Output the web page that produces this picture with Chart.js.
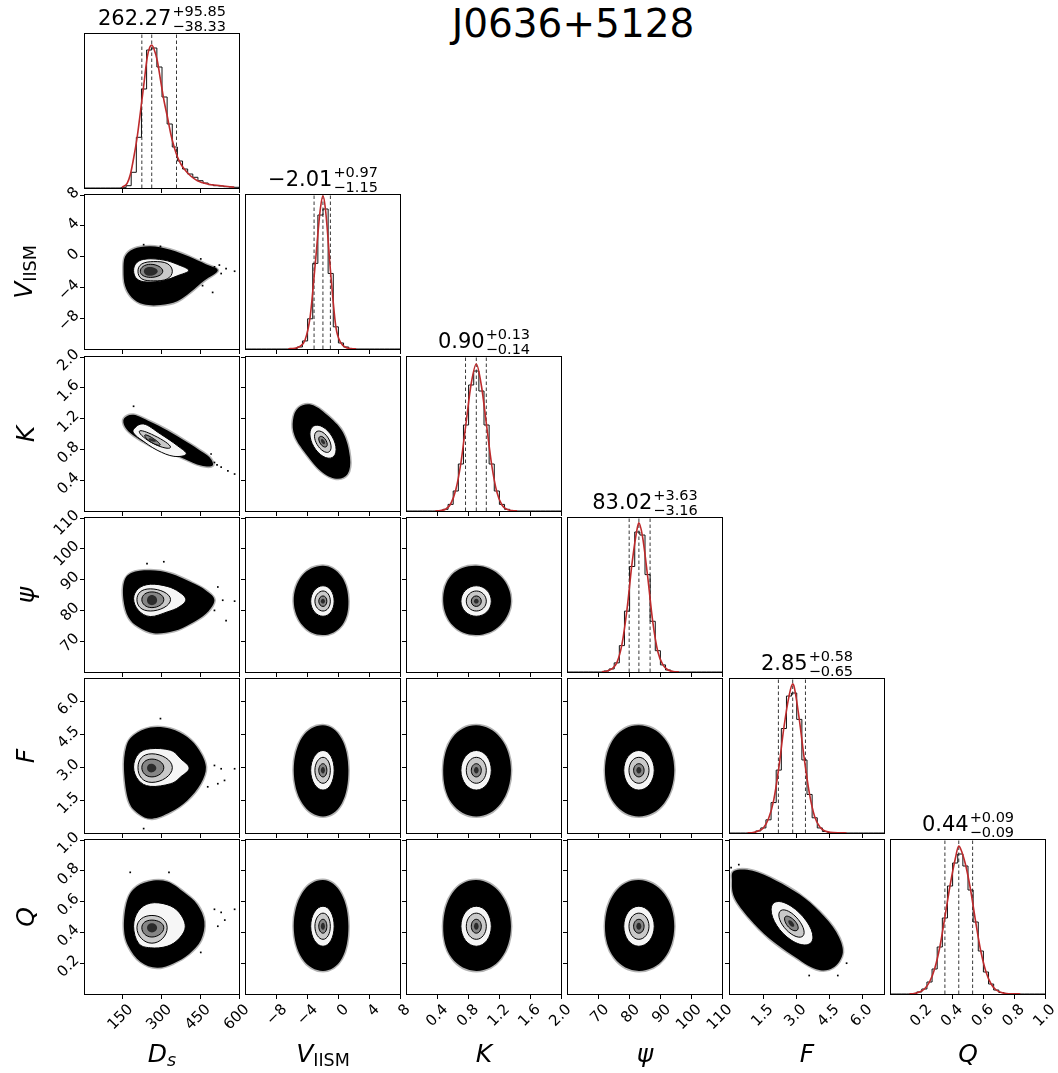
<!DOCTYPE html>
<html>
<head>
<meta charset="utf-8">
<script src="https://cdn.jsdelivr.net/npm/chart.js@4.4.1/dist/chart.umd.min.js"></script>
<style>
  body { margin: 0; background: #fff; }
  #fig { position: relative; width: 1058px; height: 1073px; overflow: hidden; background: #fff; font-family: 'DejaVu Sans', sans-serif; color: #000; }
  #fig canvas { position: absolute; }
  .title { position: absolute; left: 573px; top: 4px; transform: translateX(-50%); font-size: 39px; line-height: 39px; white-space: nowrap; }
  .qt { position: absolute; transform: translateX(-50%); display: flex; align-items: flex-start; white-space: nowrap; }
  .qt .m { font-size: 21px; line-height: 21px; margin-top: 3.8px; }
  .qt .st { display: flex; flex-direction: column; font-size: 14.5px; line-height: 14.5px; margin-top: 0px; margin-left: 1px; }
  .qt .st span + span { margin-top: 0px; }
  .axl { position: absolute; font-size: 25px; line-height: 25px; white-space: nowrap; }
  .axl sub { font-size: 17.5px; line-height: 1; vertical-align: -4px; }
  .axl.x { top: 1041px; transform: translateX(-50%); }
  .axl.y { left: 25px; transform: translate(-50%, -50%) rotate(-90deg); }
</style>
</head>
<body>
<div id="fig"></div>
<script>
// axis ranges / ticks
const dsRange = [4, 600], vRange = [-12, 8], kRange = [0, 2], psiRange = [60, 110], fRange = [0, 7], qRange = [0, 1];
const dsTicks = [150, 300, 450, 600], dsTickLabels = ['150', '300', '450', '600'];
const vTicks = [-8, -4, 0, 4, 8], vTickLabels = ['−8', '−4', '0', '4', '8'];
const kTicks = [0.4, 0.8, 1.2, 1.6, 2.0], kTickLabels = ['0.4', '0.8', '1.2', '1.6', '2.0'];
const psiTicks = [70, 80, 90, 100, 110], psiTickLabels = ['70', '80', '90', '100', '110'];
const fTicks = [1.5, 3.0, 4.5, 6.0], fTickLabels = ['1.5', '3.0', '4.5', '6.0'];
const qTicks = [0.2, 0.4, 0.6, 0.8, 1.0], qTickLabels = ['0.2', '0.4', '0.6', '0.8', '1.0'];

// summary numbers (median, +err, -err)
const medians = [262.27, -2.01, 0.90, 83.02, 2.85, 0.44];
const plusErr = [95.85, 0.97, 0.13, 3.63, 0.58, 0.09];
const minusErr = [38.33, 1.15, 0.14, 3.16, 0.65, 0.09];

// 1D histograms, 30 bins each over the axis range
const dsHist = [0,0,0,0,0,0,0,0.3,2.3,15.7,50.7,99,138,140,121,91,64,41,27,19,14,10.7,7.3,5,3.3,2.3,2,1.3,1,0.7];
const vHist = [0,0,0,0,0,0,0,0,0,0.5,2,8,30,85,133,139,75,22,6,2,0.5,0,0,0,0,0,0,0,0,0];
const kHist = [0,0,0,0,0,0,0.4,1.7,6.6,20,47,86,126,140,120,86,47,20,6.6,1.7,0.4,0,0,0,0,0,0,0,0,0];
const psiHist = [0,0,0,0,0,0,0,1,3,9,26,60,104,138,135,96,50,21,7,2,0.5,0,0,0,0,0,0,0,0,0];
const fHist = [0,0,0,0,0.5,2,5,13,30,62,103,135,138,112,72,38,15,5,1.5,0.5,0,0,0,0,0,0,0,0,0,0];
const qHist = [0,0,0,0,0.5,2,5,12,25,47,76,108,131,140,128,104,72,43,22,10,4,1.5,0.5,0,0,0,0,0,0,0];

// smooth (red) curves
const dsCurve = [[147.7,0.7],[167,4.7],[180,14],[193,31],[206,51],[219,77],[232,104],[245,131],[255,141],[262,143],[271,139],[284,127],[297,107],[310,87],[323,71],[336,54],[349,41],[362,31],[375,24],[388,19],[413,12],[439,7.3],[478,4],[530,2.3],[582,0.7]];
const vCurve = [[-6.5,0.3],[-5.67,0.8],[-5.0,2.5],[-4.33,9],[-3.67,32],[-3.0,85],[-2.33,140],[-2.0,152],[-1.67,138],[-1.0,75],[-0.33,22],[0.33,6],[1.0,1.5],[1.67,0.4],[2.3,0.1]];
const kCurve = [[0.37,0.1],[0.433,0.5],[0.5,1.8],[0.567,7],[0.633,21],[0.7,48],[0.767,88],[0.833,127],[0.9,147],[0.967,125],[1.033,86],[1.1,46],[1.167,19],[1.233,6],[1.3,1.6],[1.367,0.4],[1.43,0.1]];
const psiCurve = [[71,0.2],[72.5,0.8],[74.17,3],[75.83,9],[77.5,27],[79.17,62],[80.83,108],[82.5,142],[83.0,147],[84.17,134],[85.83,95],[87.5,50],[89.17,20],[90.83,7],[92.5,2],[94.17,0.5],[96,0.2]];
const fCurve = [[0.8,0.1],[1.05,0.5],[1.283,2],[1.517,5],[1.75,14],[1.983,32],[2.217,64],[2.45,104],[2.683,135],[2.85,147],[2.917,144],[3.15,112],[3.383,72],[3.617,38],[3.85,16],[4.083,6],[4.317,2],[4.55,0.8],[5.0,0.2],[5.3,0.05]];
const qCurve = [[0.12,0.1],[0.15,0.5],[0.183,2],[0.217,5],[0.25,12],[0.283,25],[0.317,47],[0.35,77],[0.383,108],[0.417,135],[0.44,148],[0.45,146],[0.483,130],[0.517,104],[0.55,72],[0.583,43],[0.617,22],[0.65,10],[0.683,4],[0.717,1.5],[0.75,0.5],[0.8,0.2],[0.84,0.05]];

// 2D panels: [outer cloud, outer contour, 2nd, 3rd, core] as (x, y) outlines
const vVsDs = [
  [[153,-1.8],[159,0.0],[192,1.0],[257,1.35],[335,0.9],[407,0.0],[472,-1.0],[518,-1.8],[466,-3.1],[413,-4.6],[361,-5.8],[296,-6.3],[231,-6.2],[185,-5.3],[159,-3.8]],
  [[192,-1.8],[205,-0.75],[244,-0.3],[309,-0.45],[361,-1.0],[405,-1.8],[361,-2.5],[309,-3.1],[244,-3.3],[205,-2.9]],
  [[209,-1.9],[224,-0.95],[270,-0.65],[322,-0.9],[342,-1.9],[322,-2.9],[270,-3.15],[224,-2.9]],
  [[218,-1.9],[258,-1.0],[305,-1.9],[258,-2.7]],
  [[232,-1.9],[255,-1.35],[285,-1.9],[255,-2.5]]
];
const vVsDsDots = [[505,-1.33],[524,-1.1],[550,-1.55],[583,-1.9],[531,-2.2],[498,-4.65],[459,-3.77],[231,1.55],[296,1.33],[452,-0.3]];

const kVsDs = [
  [[155,1.20],[192,1.25],[257,1.16],[322,1.05],[387,0.92],[439,0.81],[485,0.70],[498,0.59],[453,0.59],[387,0.68],[322,0.77],[257,0.85],[192,0.98],[159,1.09]],
  [[192,1.06],[231,1.13],[296,1.0],[361,0.85],[396,0.74],[348,0.71],[283,0.79],[224,0.92],[198,0.99]],
  [[214,1.03],[272,0.98],[335,0.83],[272,0.87]],
  [[235,0.98],[262,0.955],[295,0.86],[262,0.89]],
  [[250,0.935],[262,0.94],[278,0.905],[262,0.905]]
];
const kVsDsDots = [[505,0.63],[531,0.57],[557,0.52],[583,0.48],[492,0.74],[192,1.36],[470,0.66],[515,0.6]];

const kVsV = [
  [[-5.9,1.18],[-5.2,1.34],[-3.5,1.38],[-1.5,1.25],[0.6,1.02],[1.5,0.7],[1.2,0.48],[-0.3,0.42],[-2.3,0.52],[-4.5,0.78],[-5.7,0.98]],
  [[-3.7,1.0],[-2.0,1.09],[-0.3,0.8],[-2.0,0.71]],
  [[-3.1,0.97],[-2.0,1.02],[-0.95,0.83],[-2.0,0.78]],
  [[-2.55,0.935],[-2.0,0.96],[-1.45,0.865],[-2.0,0.84]],
  [[-2.27,0.915],[-2.0,0.93],[-1.73,0.885],[-2.0,0.87]]
];

const psiVsDs = [
  [[153,83.3],[155,89.2],[185,92.2],[257,93],[335,92],[413,89.2],[472,86.5],[505,83.3],[472,78.9],[413,75.7],[348,73.3],[270,72.6],[211,74.6],[172,77.8]],
  [[192,83.8],[211,87.1],[257,88.5],[322,87.8],[368,86],[394,83.5],[368,81.1],[322,79.5],[257,78],[211,80]],
  [[205,83.5],[257,87],[335,83.5],[257,79.8]],
  [[224,83.5],[263,86],[309,83.5],[263,80.9]],
  [[244,83.3],[263,85],[283,83.3],[263,81.7]]
];
const psiVsDsDots = [[518,87.6],[537,83.3],[583,83],[505,80],[550,76.7],[479,80],[244,95.2],[309,95.8]];

const psiVsV = [
  [[-5.8,83],[-4.7,91.3],[-2.0,94.5],[0.4,91.0],[1.3,83],[0.5,75.3],[-2.0,72],[-4.6,75.0]],
  [[-3.6,83],[-2.0,88.0],[-0.55,83],[-2.0,78.1]],
  [[-3.05,83],[-2.0,86.3],[-1.05,83],[-2.0,79.8]],
  [[-2.55,83],[-2.0,84.7],[-1.5,83],[-2.0,81.3]],
  [[-2.28,83],[-2.0,83.8],[-1.75,83],[-2.0,82.2]]
];

const psiVsK = [
  [[0.47,83],[0.58,91.5],[0.9,94.5],[1.22,91],[1.35,83],[1.21,75.2],[0.9,72],[0.6,75.0]],
  [[0.70,83],[0.9,88.0],[1.095,83],[0.9,78.1]],
  [[0.77,83],[0.9,86.3],[1.03,83],[0.9,79.8]],
  [[0.835,83],[0.9,84.7],[0.965,83],[0.9,81.3]],
  [[0.87,83],[0.9,83.8],[0.93,83],[0.9,82.2]]
];

const fVsDs = [
  [[155,2.85],[163,3.9],[192,4.44],[257,4.79],[335,4.74],[400,4.36],[446,3.76],[472,3.0],[452,2.24],[400,1.48],[335,0.95],[264,0.65],[211,0.88],[172,1.48]],
  [[192,3.0],[211,3.6],[257,3.83],[335,3.76],[374,3.38],[407,2.95],[374,2.55],[335,2.24],[257,2.12],[211,2.4]],
  [[209,2.97],[263,3.6],[342,2.97],[263,2.3]],
  [[224,2.97],[263,3.36],[309,2.97],[263,2.55]],
  [[244,2.95],[260,3.15],[280,2.95],[260,2.75]]
];
const fVsDsDots = [[505,3.07],[531,2.92],[583,2.92],[518,2.24],[544,2.39],[479,2.1],[296,5.2],[231,0.2]];

const fVsV = [
  [[-5.8,2.85],[-4.7,4.35],[-2.0,4.9],[0.4,4.3],[1.3,2.85],[0.45,1.35],[-2.0,0.75],[-4.7,1.35]],
  [[-3.6,2.85],[-2.0,3.75],[-0.55,2.85],[-2.0,1.95]],
  [[-3.05,2.85],[-2.0,3.44],[-1.05,2.85],[-2.0,2.26]],
  [[-2.55,2.85],[-2.0,3.15],[-1.5,2.85],[-2.0,2.55]],
  [[-2.28,2.85],[-2.0,3.0],[-1.75,2.85],[-2.0,2.7]]
];

const fVsK = [
  [[0.47,2.85],[0.59,4.33],[0.9,4.9],[1.22,4.3],[1.35,2.85],[1.22,1.35],[0.9,0.75],[0.58,1.36]],
  [[0.70,2.85],[0.9,3.75],[1.095,2.85],[0.9,1.95]],
  [[0.77,2.85],[0.9,3.44],[1.03,2.85],[0.9,2.26]],
  [[0.835,2.85],[0.9,3.15],[0.965,2.85],[0.9,2.55]],
  [[0.87,2.85],[0.9,3.0],[0.93,2.85],[0.9,2.7]]
];

const fVsPsi = [
  [[72,2.85],[75.1,4.33],[83,4.9],[91.3,4.3],[94.5,2.85],[91.2,1.35],[83,0.75],[75,1.36]],
  [[78.1,2.85],[83,3.75],[88.0,2.85],[83,1.95]],
  [[79.8,2.85],[83,3.44],[86.3,2.85],[83,2.26]],
  [[81.3,2.85],[83,3.15],[84.7,2.85],[83,2.55]],
  [[82.2,2.85],[83,3.0],[83.8,2.85],[83,2.7]]
];

const qVsDs = [
  [[155,0.42],[163,0.58],[192,0.68],[250,0.73],[322,0.73],[387,0.66],[439,0.58],[466,0.47],[453,0.35],[407,0.26],[348,0.20],[283,0.17],[218,0.21],[172,0.31]],
  [[192,0.44],[211,0.54],[257,0.59],[322,0.58],[368,0.53],[392,0.44],[368,0.36],[322,0.31],[257,0.30],[211,0.33]],
  [[205,0.43],[263,0.51],[322,0.43],[263,0.33]],
  [[224,0.43],[263,0.48],[309,0.43],[263,0.37]],
  [[244,0.43],[263,0.46],[283,0.43],[263,0.40]]
];
const qVsDsDots = [[505,0.55],[531,0.53],[583,0.55],[518,0.44],[452,0.27],[329,0.79],[179,0.79],[545,0.48]];

const qVsV = [
  [[-5.8,0.44],[-4.7,0.656],[-2.0,0.74],[0.4,0.65],[1.3,0.44],[0.45,0.23],[-2.0,0.15],[-4.7,0.23]],
  [[-3.6,0.44],[-2.0,0.57],[-0.55,0.44],[-2.0,0.31]],
  [[-3.05,0.44],[-2.0,0.525],[-1.05,0.44],[-2.0,0.355]],
  [[-2.55,0.44],[-2.0,0.485],[-1.5,0.44],[-2.0,0.395]],
  [[-2.28,0.44],[-2.0,0.463],[-1.75,0.44],[-2.0,0.417]]
];

const qVsK = [
  [[0.47,0.44],[0.59,0.656],[0.9,0.74],[1.22,0.65],[1.35,0.44],[1.22,0.23],[0.9,0.15],[0.58,0.235]],
  [[0.70,0.44],[0.9,0.57],[1.095,0.44],[0.9,0.31]],
  [[0.77,0.44],[0.9,0.525],[1.03,0.44],[0.9,0.355]],
  [[0.835,0.44],[0.9,0.485],[0.965,0.44],[0.9,0.395]],
  [[0.87,0.44],[0.9,0.463],[0.93,0.44],[0.9,0.417]]
];

const qVsPsi = [
  [[72,0.44],[75.1,0.656],[83,0.74],[91.3,0.65],[94.5,0.44],[91.2,0.23],[83,0.15],[75,0.235]],
  [[78.1,0.44],[83,0.57],[88.0,0.44],[83,0.31]],
  [[79.8,0.44],[83,0.525],[86.3,0.44],[83,0.355]],
  [[81.3,0.44],[83,0.485],[84.7,0.44],[83,0.395]],
  [[82.2,0.44],[83,0.463],[83.8,0.44],[83,0.417]]
];

const qVsF = [
  [[0.09,0.735],[0.2,0.80],[1.03,0.80],[2.1,0.736],[3.16,0.647],[4.07,0.536],[4.83,0.403],[5.13,0.27],[4.68,0.17],[3.92,0.16],[2.85,0.25],[1.79,0.36],[0.88,0.49],[0.2,0.625]],
  [[1.87,0.547],[2.78,0.57],[3.77,0.37],[2.78,0.35]],
  [[2.22,0.513],[2.78,0.527],[3.37,0.40],[2.78,0.39]],
  [[2.48,0.488],[2.78,0.495],[3.1,0.43],[2.78,0.42]],
  [[2.65,0.47],[2.78,0.475],[2.92,0.445],[2.78,0.44]]
];
const qVsFDots = [[0.05,0.82],[0.4,0.84],[5.3,0.2],[4.9,0.12],[3.6,0.12],[5.0,0.33]];

const axisLabels = ['<i>D</i><sub><i>s</i></sub>', '<i>V</i><sub>IISM</sub>', '<i>K</i>', '<i>ψ</i>', '<i>F</i>', '<i>Q</i>'];

// layout
const SIZE = 154;
const colLeft = [85, 246, 407, 568, 730, 891];
const rowTop = [34, 195, 357, 518, 679, 840];
const levelFills = ['#000000', '#f6f6f6', '#c9c9c9', '#858585', '#2b2b2b'];
const levelStrokes = [null, '#000', '#000', '#000', null];

const params = [
  { range: dsRange, ticks: dsTicks, labels: dsTickLabels, hist: dsHist, curve: dsCurve },
  { range: vRange, ticks: vTicks, labels: vTickLabels, hist: vHist, curve: vCurve },
  { range: kRange, ticks: kTicks, labels: kTickLabels, hist: kHist, curve: kCurve },
  { range: psiRange, ticks: psiTicks, labels: psiTickLabels, hist: psiHist, curve: psiCurve },
  { range: fRange, ticks: fTicks, labels: fTickLabels, hist: fHist, curve: fCurve },
  { range: qRange, ticks: qTicks, labels: qTickLabels, hist: qHist, curve: qCurve }
];

const panels2d = {
  '1-0': [vVsDs, vVsDsDots],
  '2-0': [kVsDs, kVsDsDots], '2-1': [kVsV, []],
  '3-0': [psiVsDs, psiVsDsDots], '3-1': [psiVsV, []], '3-2': [psiVsK, []],
  '4-0': [fVsDs, fVsDsDots], '4-1': [fVsV, []], '4-2': [fVsK, []], '4-3': [fVsPsi, []],
  '5-0': [qVsDs, qVsDsDots], '5-1': [qVsV, []], '5-2': [qVsK, []], '5-3': [qVsPsi, []], '5-4': [qVsF, qVsFDots]
};

Chart.defaults.font.family = "'DejaVu Sans', sans-serif";
Chart.defaults.color = '#000';

const tickFont = { family: "'DejaVu Sans', sans-serif", size: 15 };

function smoothClosed(ctx, pts) {
  const n = pts.length;
  const k = (4 / 3) * Math.tan(Math.PI / (2 * n)) / (2 * Math.sin(2 * Math.PI / n));
  ctx.beginPath();
  ctx.moveTo(pts[0][0], pts[0][1]);
  for (let i = 0; i < n; i++) {
    const p0 = pts[(i - 1 + n) % n], p1 = pts[i], p2 = pts[(i + 1) % n], p3 = pts[(i + 2) % n];
    ctx.bezierCurveTo(
      p1[0] + (p2[0] - p0[0]) * k, p1[1] + (p2[1] - p0[1]) * k,
      p2[0] - (p3[0] - p1[0]) * k, p2[1] - (p3[1] - p1[1]) * k,
      p2[0], p2[1]);
  }
  ctx.closePath();
}

const contourPlugin = (levels) => ({
  id: 'contours',
  beforeDatasetsDraw(chart) {
    const { ctx, chartArea: a, scales: { x, y } } = chart;
    ctx.save();
    ctx.beginPath();
    ctx.rect(a.left, a.top, a.width, a.height);
    ctx.clip();
    levels.forEach((pts, i) => {
      smoothClosed(ctx, pts.map(p => [x.getPixelForValue(p[0]), y.getPixelForValue(p[1])]));
      if (i === 0) {
        // soft edge of the sample cloud
        ctx.strokeStyle = 'rgba(0,0,0,0.3)';
        ctx.lineWidth = 3;
        ctx.stroke();
      }
      ctx.fillStyle = levelFills[i];
      ctx.fill();
      if (levelStrokes[i]) {
        ctx.strokeStyle = levelStrokes[i];
        ctx.lineWidth = 1;
        ctx.stroke();
      }
    });
    ctx.restore();
  }
});

const framePlugin = {
  id: 'frame',
  afterDatasetsDraw(chart) {
    const { ctx, chartArea: a } = chart;
    ctx.save();
    ctx.strokeStyle = '#000';
    ctx.lineWidth = 1;
    ctx.strokeRect(a.left - 0.5, a.top - 0.5, a.width + 1, a.height + 1);
    ctx.restore();
  }
};

function axisScale(p, pos, show, size) {
  const horiz = pos === 'bottom';
  return {
    type: 'linear', position: pos, min: p.range[0], max: p.range[1],
    afterBuildTicks: s => { s.ticks = p.ticks.map(v => ({ value: v })); },
    afterFit: s => {
      if (horiz) { s.height = size; s.paddingLeft = 0; s.paddingRight = 0; }
      else { s.width = size; s.paddingTop = 0; s.paddingBottom = 0; }
    },
    grid: { drawOnChartArea: false, drawTicks: true, tickLength: 5, color: '#000', lineWidth: 1 },
    border: { display: false },
    ticks: {
      display: show, autoSkip: false, minRotation: 45, maxRotation: 45,
      padding: horiz ? 2 : 3, labelOffset: horiz ? 8 : -5,
      color: '#000', font: tickFont,
      callback: (v, i) => p.labels[i]
    }
  };
}

const fig = document.getElementById('fig');
const fmt = v => v.toFixed(2).replace('-', '−');

for (let r = 0; r < 6; r++) {
  for (let c = 0; c <= r; c++) {
    const padL = c === 0 ? 70 : 10;
    const padB = r === 5 ? 62 : 10;
    const padT = 16, padR = 22;
    const cv = document.createElement('canvas');
    cv.width = padL + SIZE + padR;
    cv.height = padT + SIZE + padB;
    cv.style.left = (colLeft[c] - padL) + 'px';
    cv.style.top = (rowTop[r] - padT) + 'px';
    fig.appendChild(cv);

    const px = params[c];
    const base = {
      responsive: false, animation: false, devicePixelRatio: 1, events: [],
      plugins: { legend: { display: false }, tooltip: { enabled: false } }
    };

    if (r === c) {
      const n = px.hist.length;
      const w = (px.range[1] - px.range[0]) / n;
      const ymax = Math.max(...px.hist) * 1.1;
      // bin edges with the bin's height held until the next edge
      const step = [{ x: px.range[0], y: 0 }];
      px.hist.forEach((h, i) => step.push({ x: px.range[0] + i * w, y: h }));
      step.push({ x: px.range[1], y: px.hist[n - 1] }, { x: px.range[1], y: 0 });
      const q = [medians[c] - minusErr[c], medians[c], medians[c] + plusErr[c]];
      new Chart(cv, {
        type: 'line',
        data: {
          datasets: [
            { data: px.curve.map(p => ({ x: p[0], y: p[1] })), borderColor: '#be2a2c', borderWidth: 1.6,
              pointRadius: 0, cubicInterpolationMode: 'monotone' },
            { data: step, stepped: 'before', borderColor: '#111', borderWidth: 1, pointRadius: 0 },
            ...q.map(v => ({ data: [{ x: v, y: 0 }, { x: v, y: ymax }], borderColor: '#222',
              borderWidth: 0.9, borderDash: [3.5, 2.5], pointRadius: 0 }))
          ]
        },
        options: {
          ...base,
          layout: { padding: { left: padL, top: padT, right: padR, bottom: 0 } },
          scales: {
            x: axisScale(px, 'bottom', r === 5, padB),
            y: { display: false, min: 0, max: ymax }
          }
        },
        plugins: [framePlugin]
      });

      const t = document.createElement('div');
      t.className = 'qt';
      t.style.left = (colLeft[c] + SIZE / 2) + 'px';
      t.style.top = (rowTop[r] - 30) + 'px';
      t.innerHTML = `<span class="m">${fmt(medians[c])}</span><span class="st"><span>+${fmt(plusErr[c])}</span><span>−${fmt(minusErr[c])}</span></span>`;
      fig.appendChild(t);
    } else {
      const py = params[r];
      const [levels, dots] = panels2d[r + '-' + c];
      new Chart(cv, {
        type: 'scatter',
        data: {
          datasets: [{ data: dots.map(p => ({ x: p[0], y: p[1] })), pointStyle: 'rect', pointRadius: 1.2,
            backgroundColor: '#000', borderWidth: 0 }]
        },
        options: {
          ...base,
          layout: { padding: { left: 0, top: padT, right: padR, bottom: 0 } },
          scales: {
            x: axisScale(px, 'bottom', r === 5, padB),
            y: axisScale(py, 'left', c === 0, padL)
          }
        },
        plugins: [contourPlugin(levels), framePlugin]
      });
    }
  }
}

// figure title + axis labels
const title = document.createElement('div');
title.className = 'title';
title.textContent = 'J0636+5128';
fig.appendChild(title);

axisLabels.forEach((html, i) => {
  const xl = document.createElement('div');
  xl.className = 'axl x';
  xl.style.left = (colLeft[i] + SIZE / 2) + 'px';
  xl.innerHTML = html;
  fig.appendChild(xl);
  if (i > 0) {
    const yl = document.createElement('div');
    yl.className = 'axl y';
    yl.style.top = (rowTop[i] + SIZE / 2) + 'px';
    yl.innerHTML = html;
    fig.appendChild(yl);
  }
});
</script>
</body>
</html>
